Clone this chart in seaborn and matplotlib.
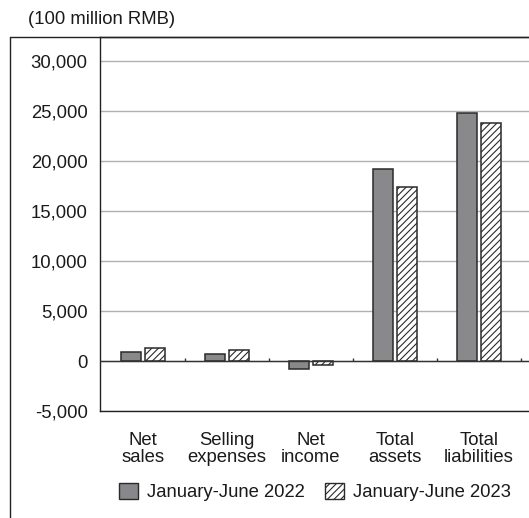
import matplotlib
matplotlib.use("Agg")
import matplotlib.pyplot as plt
import seaborn as sns
import pandas as pd
from matplotlib.lines import Line2D
from matplotlib.patches import Patch

categories = ["Net\nsales", "Selling\nexpenses", "Net\nincome", "Total\nassets", "Total\nliabilities"]
periods = ["January-June 2022", "January-June 2023"]
values_2022 = [950, 750, -800, 19200, 24800]
values_2023 = [1300, 1150, -350, 17400, 23800]
yticks = [-5000, 0, 5000, 10000, 15000, 20000, 25000, 30000]
ytick_labels = ["-5,000", "0", "5,000", "10,000", "15,000", "20,000", "25,000", "30,000"]
unit_label = "(100 million RMB)"

df = pd.DataFrame({
    "category": categories * 2,
    "period": [periods[0]] * len(categories) + [periods[1]] * len(categories),
    "value": values_2022 + values_2023,
})

sns.set_theme(style="white")
plt.rcParams["font.family"] = ["Liberation Sans", "DejaVu Sans"]
plt.rcParams["hatch.linewidth"] = 0.8
plt.rcParams["hatch.color"] = "#333333"

FS = 13.3
W, H = 529, 518
fig = plt.figure(figsize=(W / 100, H / 100), dpi=100)
ax = fig.add_axes([100 / W, 1 - 411 / H, 1 - 100 / W, (411 - 37) / H])

dark = "#88888c"
edge = "#2a2a2a"
sns.barplot(data=df, x="category", y="value", hue="period", order=categories,
            hue_order=periods, palette=[dark, "white"], width=0.57, gap=0.16,
            edgecolor=edge, linewidth=1.1, legend=False, ax=ax, zorder=3)

n = len(categories)
for i, p in enumerate(ax.patches):
    if i >= n:
        p.set_hatch("/////")
        p.set_facecolor("white")
        p.set_edgecolor(edge)

ax.set_ylim(-5000, 32400)
ax.set_xlim(-0.51, 4.6)
ax.set_yticks(yticks)
ax.set_yticklabels(ytick_labels)
ax.yaxis.grid(True, color="#b0b0b0", linewidth=1.0, zorder=0)
ax.xaxis.grid(False)
ax.set_axisbelow(True)
ax.axhline(0, color="#333333", linewidth=1.0, zorder=4)
ax.vlines([i + 0.5 for i in range(n)], 0, 300, color="#333333", linewidth=1.0, zorder=4)

ax.set_xlabel("")
ax.set_ylabel("")
ax.tick_params(axis="x", length=0, pad=15, labelsize=FS, colors="#1a1a1a")
ax.tick_params(axis="y", length=0, pad=9, labelsize=FS, colors="#1a1a1a")
for lbl in ax.get_xticklabels():
    lbl.set_linespacing(1.0)

for s in ["left", "bottom", "top"]:
    ax.spines[s].set_color("#222222")
    ax.spines[s].set_linewidth(1.0)
ax.spines["right"].set_visible(False)

# outer frame
fig.add_artist(Line2D([10 / W, 10 / W], [0, 1 - 37 / H], transform=fig.transFigure,
                      color="#222222", linewidth=1.0))
fig.add_artist(Line2D([10 / W, 1], [1 - 37 / H, 1 - 37 / H], transform=fig.transFigure,
                      color="#222222", linewidth=1.0))

fig.text(28 / W, 1 - 20 / H, unit_label, ha="left", va="center", fontsize=FS, color="#1a1a1a")

handles = [Patch(facecolor=dark, edgecolor=edge, linewidth=1.0),
           Patch(facecolor="white", edgecolor=edge, hatch="/////", linewidth=1.0)]
fig.legend(handles, periods, loc="center", bbox_to_anchor=(315 / W, 1 - 492 / H), ncol=2,
           frameon=False, fontsize=FS, handlelength=1.0, handleheight=1.0,
           handletextpad=0.5, columnspacing=1.1, labelcolor="#1a1a1a")

fig.savefig("out.png", dpi=100)
